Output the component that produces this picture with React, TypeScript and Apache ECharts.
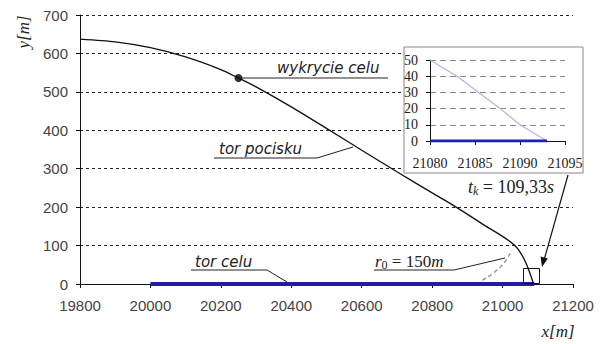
import React, { useEffect, useRef } from "react";
import * as echarts from "echarts";

// Main chart: missile trajectory (tor pocisku)
const trajX = [19800, 19900, 20000, 20100, 20200, 20250, 20300, 20400, 20500, 20600, 20700, 20800, 20865, 20950, 21000, 21035, 21055, 21070, 21080, 21088];
const trajY = [637, 630, 615, 591, 558, 536, 513, 461, 405, 348, 292, 237, 202, 152, 124, 100, 75, 47, 22, 0];
// target track (tor celu)
const targetX = [20000, 21090];
const targetY = [0, 0];
// detection point (wykrycie celu)
const detectX = [20250];
const detectY = [536];
// r0 = 150 m arc
const r0X = [20943, 20977, 21006, 21026];
const r0Y = [10, 31, 57, 88];
// inset
const insetMissileX = [21080, 21083, 21085.4, 21087.8, 21090, 21093];
const insetMissileY = [50, 40, 30, 20, 10, 0];
const insetTargetX = [21080, 21093];
const insetTargetY = [0, 0];

const zip = (xs: number[], ys: number[]) => xs.map((x, i) => [x, ys[i]]);
const plain = (v: number) => String(v);

export default function App() {
  const ref = useRef<HTMLDivElement>(null);
  useEffect(() => {
    if (!ref.current) return;
    const chart = echarts.init(ref.current, null, { renderer: "svg" });
    const sans = "Liberation Sans, Arial, sans-serif";
    const serif = "Liberation Serif, Times New Roman, serif";
    const annot = "DejaVu Sans, sans-serif";
    chart.setOption({
      animation: false,
      backgroundColor: "#ffffff",
      grid: [
        { left: 80, top: 15, width: 493, height: 269 },
        { left: 430, top: 60, width: 135, height: 81, z: 20 },
      ],
      xAxis: [
        {
          type: "value", gridIndex: 0, min: 19800, max: 21200, interval: 200,
          axisLine: { show: true, lineStyle: { color: "#111", width: 1 } },
          axisTick: { show: true, length: 4, lineStyle: { color: "#111" } },
          axisLabel: { margin: 14, fontSize: 15, color: "#444", fontFamily: sans, formatter: plain },
          splitLine: { show: false },
        },
        {
          type: "value", gridIndex: 1, min: 21080, max: 21095, interval: 5, z: 20,
          axisLine: { show: true, onZero: false, lineStyle: { color: "#111", width: 1 } },
          axisTick: { show: true, length: 4, lineStyle: { color: "#111" } },
          axisLabel: { margin: 15, fontSize: 14, color: "#222", fontFamily: serif, formatter: plain },
          splitLine: { show: false },
        },
      ],
      yAxis: [
        {
          type: "value", gridIndex: 0, min: 0, max: 700, interval: 100,
          axisLine: { show: true, lineStyle: { color: "#111", width: 1 } },
          axisTick: { show: true, length: 4, lineStyle: { color: "#111" } },
          axisLabel: { margin: 12, fontSize: 15, color: "#444", fontFamily: sans, formatter: plain },
          splitLine: { show: true, lineStyle: { color: "#222", type: [3, 3], width: 1 } },
        },
        {
          type: "value", gridIndex: 1, min: 0, max: 50, interval: 10, z: 20,
          axisLine: { show: true, onZero: false, lineStyle: { color: "#111", width: 1 } },
          axisTick: { show: true, length: 4, lineStyle: { color: "#111" } },
          axisLabel: { margin: 12, fontSize: 14, color: "#222", fontFamily: serif, formatter: plain },
          splitLine: { show: true, lineStyle: { color: "#888", type: [6, 4], width: 1 } },
        },
      ],
      series: [
        {
          name: "tor celu", type: "line", xAxisIndex: 0, yAxisIndex: 0, symbol: "none",
          data: zip(targetX, targetY), lineStyle: { color: "#1f1fa0", width: 4 }, z: 3,
        },
        {
          name: "tor pocisku", type: "line", xAxisIndex: 0, yAxisIndex: 0, symbol: "none", smooth: 0.25,
          data: zip(trajX, trajY), lineStyle: { color: "#111", width: 1.3 }, z: 4,
        },
        {
          name: "r0", type: "line", xAxisIndex: 0, yAxisIndex: 0, symbol: "none", smooth: true,
          data: zip(r0X, r0Y), lineStyle: { color: "#999", width: 1.5, type: [4, 3] }, z: 3,
        },
        {
          name: "wykrycie celu", type: "scatter", xAxisIndex: 0, yAxisIndex: 0, symbol: "circle", symbolSize: 8,
          data: zip(detectX, detectY), itemStyle: { color: "#000" }, z: 5,
        },
        {
          name: "inset pocisk", type: "line", xAxisIndex: 1, yAxisIndex: 1, symbol: "none",
          data: zip(insetMissileX, insetMissileY), lineStyle: { color: "#b4b4e6", width: 1.2 }, z: 21,
        },
        {
          name: "inset cel", type: "line", xAxisIndex: 1, yAxisIndex: 1, symbol: "none",
          data: zip(insetTargetX, insetTargetY), lineStyle: { color: "#1f1fb0", width: 3 }, z: 22,
        },
      ],
      graphic: [
        { type: "rect", z: 10, shape: { x: 404, y: 47, width: 179, height: 126 }, style: { fill: "#fff", stroke: "#888", lineWidth: 1 } },
        // y[m]
        {
          type: "text", x: 23, y: 32, rotation: Math.PI / 2, z: 30,
          style: { text: "y[m]", font: "italic 17px " + serif, fill: "#222", align: "center", verticalAlign: "middle" },
        },
        // x[m]
        {
          type: "text", x: 558, y: 331, z: 30,
          style: { text: "x[m]", font: "italic 17px " + serif, fill: "#222", align: "center", verticalAlign: "middle" },
        },
        // wykrycie celu
        { type: "text", x: 277, y: 68, z: 30, style: { text: "wykrycie celu", font: "italic 15px " + annot, fill: "#222", verticalAlign: "middle" } },
        { type: "line", z: 30, shape: { x1: 239, y1: 78, x2: 388, y2: 78 }, style: { stroke: "#222", lineWidth: 1 } },
        // tor pocisku
        { type: "text", x: 219, y: 149, z: 30, style: { text: "tor pocisku", font: "italic 15px " + annot, fill: "#222", verticalAlign: "middle" } },
        { type: "polyline", z: 30, shape: { points: [[214, 158], [317, 158], [353, 147]] }, style: { stroke: "#222", lineWidth: 1, fill: "none" } },
        // tor celu
        { type: "text", x: 195, y: 262, z: 30, style: { text: "tor celu", font: "italic 15px " + annot, fill: "#222", verticalAlign: "middle" } },
        { type: "polyline", z: 30, shape: { points: [[191, 270], [267, 270], [287, 282]] }, style: { stroke: "#222", lineWidth: 1, fill: "none" } },
        // r0 = 150m
        {
          type: "text", x: 375, y: 261, z: 30,
          style: {
            text: "{i|r}{sub|0}{n| = 150}{i|m}",
            verticalAlign: "middle",
            rich: {
              i: { font: "italic 17px " + serif, fill: "#222" },
              n: { font: "17px " + serif, fill: "#222" },
              sub: { font: "12px " + serif, fill: "#222", padding: [8, 0, 0, 0] },
            },
          },
        },
        { type: "polyline", z: 30, shape: { points: [[374, 270], [454, 270], [505, 258]] }, style: { stroke: "#222", lineWidth: 1, fill: "none" } },
        // t_k
        {
          type: "text", x: 468, y: 187, z: 30,
          style: {
            text: "{i|t}{sub|k}{n| = 109,33}{i|s}",
            verticalAlign: "middle",
            rich: {
              i: { font: "italic 18px " + serif, fill: "#222" },
              n: { font: "18px " + serif, fill: "#222" },
              sub: { font: "italic 12px " + serif, fill: "#222", padding: [8, 0, 0, 0] },
            },
          },
        },
        { type: "line", z: 30, shape: { x1: 568, y1: 175, x2: 543.5, y2: 262 }, style: { stroke: "#111", lineWidth: 1.2 } },
        { type: "polygon", z: 30, shape: { points: [[542, 267], [547.8, 258.5], [540.6, 256.6]] }, style: { fill: "#111" } },
        // box around the end point
        { type: "rect", z: 30, shape: { x: 523.5, y: 268.5, width: 16, height: 15 }, style: { fill: "none", stroke: "#111", lineWidth: 1 } },
      ],
    });
    return () => chart.dispose();
  }, []);
  return <div ref={ref} style={{ position: "fixed", left: 0, top: 0, width: 604, height: 344 }} />;
}
